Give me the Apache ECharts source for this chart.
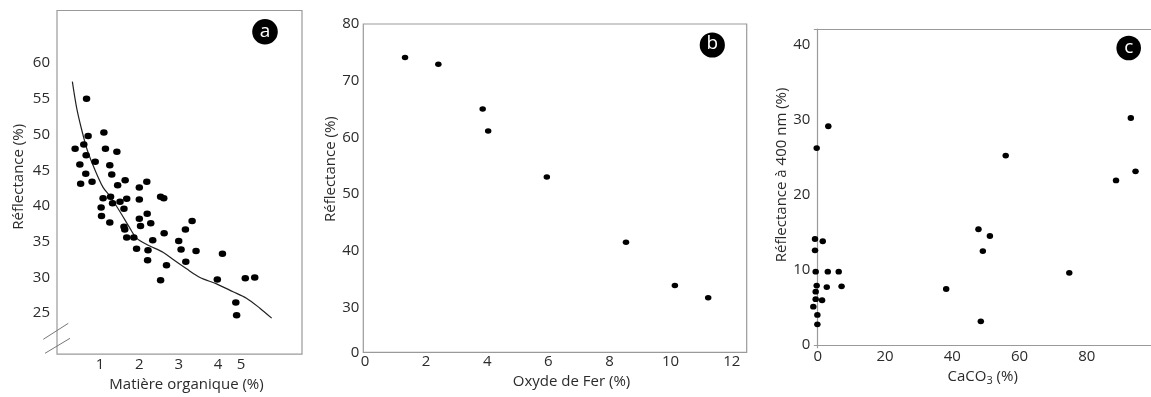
<!DOCTYPE html>
<html><head><meta charset="utf-8">
<script src="https://cdn.jsdelivr.net/npm/echarts@6/dist/echarts.min.js"></script>
<style>html,body{margin:0;padding:0;background:#fff}#c{width:1151px;height:397px}</style>
</head><body><div id="c"></div>
<script>
// Panel a: Matière organique (%) vs Réflectance (%)
const orgX = [0.66,0.70,1.10,0.37,0.59,0.65,1.14,1.43,0.49,0.88,1.25,0.64,1.30,0.51,0.80,1.45,1.64,2.00,2.19,1.08,1.27,1.03,1.04,1.32,1.51,1.68,1.61,2.00,2.54,2.62,1.25,1.61,1.63,1.68,1.86,2.00,2.03,2.20,2.29,2.34,1.93,2.22,2.21,2.63,2.69,2.54,3.34,3.17,3.00,3.06,3.44,3.18,4.11,3.98,4.69,4.93,4.45,4.47];
const orgY = [55.0,49.8,50.3,48.0,48.6,47.1,48.0,47.6,45.8,46.2,45.7,44.5,44.4,43.1,43.4,42.9,43.6,42.6,43.4,41.1,41.3,39.8,38.6,40.4,40.6,41.0,39.6,40.9,41.3,41.1,37.7,37.1,36.7,35.6,35.6,38.2,37.2,38.9,37.6,35.2,34.0,33.8,32.4,36.2,31.7,29.6,37.9,36.7,35.1,33.9,33.7,32.2,33.3,29.7,29.9,30.0,26.5,24.7];
const curveX = [0.30,0.41,0.54,0.68,0.87,1.08,1.25,1.51,1.76,1.93,2.19,2.61,2.86,3.20,3.54,3.96,4.38,4.72,5.06,5.36];
const curveY = [57.4,53.7,50.6,47.8,45.1,42.6,41.4,39.2,36.9,35.5,34.6,33.5,32.5,31.2,30.0,29.1,28.0,27.1,25.7,24.3];
const aXTicks = [1,2,3,4,4.58];
const aXTickText = ['1','2','3','4','5'];
const aYTicks = [25,30,35,40,45,50,55,60];

// Panel b: Oxyde de Fer (%) vs Réflectance (%)
const feX = [1.31,2.40,3.85,4.03,5.95,8.54,10.14,11.23];
const feY = [74.1,72.9,65.0,61.1,53.0,41.5,33.85,31.7];
const bXTicks = [0,2,4,6,8,10,12];
const bYTicks = [22.06,30,40,50,60,70,80];
const bYTickText = ['0','30','40','50','60','70','80'];

// Panel c: CaCO3 (%) vs Réflectance à 400 nm (%)
const caX = [-0.3,3.15,55.9,93.1,88.7,94.5,-0.8,1.5,-0.8,-0.6,3.0,6.25,-0.3,2.7,7.1,-0.6,-0.6,1.3,-1.3,-0.1,-0.1,47.8,51.2,49.1,38.2,48.5,74.8];
const caY = [26.2,29.1,25.2,30.2,21.9,23.1,14.1,13.8,12.6,9.75,9.75,9.75,7.9,7.7,7.8,7.1,6.1,5.95,5.1,4.0,2.75,15.4,14.5,12.5,7.45,3.15,9.6];
const cXTicks = [0,20,40,60,80];
const cYTicks = [0,10,20,30,40];

const FONT = 'Open Sans';
const TXT = '#2b2b2b';
const GRID = '#9a9a9a';
const pairs = (xs, ys) => xs.map((x, i) => [x, ys[i]]);

const lbl = (extra) => Object.assign({color: TXT, fontFamily: FONT, fontSize: 15}, extra);
const nameStyle = (extra) => Object.assign({color: TXT, fontFamily: FONT, fontSize: 15}, extra);
const dot = {color: '#000', opacity: 1};

const chart = echarts.init(document.getElementById('c'), null, {renderer: 'canvas'});
chart.setOption({
  animation: false,
  backgroundColor: '#fff',
  grid: [
    {left: 57, top: 10.5, width: 245, height: 351.5, show: true, borderColor: GRID, borderWidth: 1.2, backgroundColor: 'transparent'},
    {left: 363.3, top: 24, width: 383.4, height: 328.3, show: true, borderColor: GRID, borderWidth: 1.2, backgroundColor: 'transparent'},
    {left: 814.3, top: 29, right: 0, height: 318.7, show: false}
  ],
  xAxis: [
    {gridIndex: 0, type: 'value', min: -0.09, max: 6.13,
     axisLine: {show: false}, axisTick: {show: false}, splitLine: {show: false},
     axisLabel: Object.assign(lbl({margin: 3}), {customValues: aXTicks,
       formatter: v => { const i = aXTicks.findIndex(t => Math.abs(t - v) < 1e-6); return i >= 0 ? aXTickText[i] : ''; }}),
     name: 'Matière organique (%)', nameLocation: 'middle', nameGap: 21,
     nameTextStyle: nameStyle({padding: [0, 0, 0, 14]})},
    {gridIndex: 1, type: 'value', min: -0.056, max: 12.49,
     axisLine: {show: false}, axisTick: {show: false}, splitLine: {show: false},
     axisLabel: Object.assign(lbl({margin: 2}), {customValues: bXTicks}),
     name: 'Oxyde de Fer (%)', nameLocation: 'middle', nameGap: 22,
     nameTextStyle: nameStyle({padding: [0, 0, 0, 33]})},
    {gridIndex: 2, type: 'value', min: -1.01, max: 99.1,
     axisLine: {show: true, lineStyle: {color: GRID, width: 1.2}}, axisTick: {show: false}, splitLine: {show: false},
     axisLabel: Object.assign(lbl({margin: 2}), {customValues: cXTicks}),
     name: '{n|CaCO}{s|3}{n| (%)}', nameLocation: 'middle', nameGap: 20,
     nameTextStyle: nameStyle({rich: {
       n: {color: TXT, fontFamily: FONT, fontSize: 15},
       s: {color: TXT, fontFamily: FONT, fontSize: 11, padding: [8, 0, 0, 0]}}})},
    {gridIndex: 2, type: 'value', min: -1.01, max: 99.1, position: 'top',
     axisLine: {show: true, lineStyle: {color: GRID, width: 1.2}}, axisTick: {show: false},
     axisLabel: {show: false}, splitLine: {show: false}}
  ],
  yAxis: [
    {gridIndex: 0, type: 'value', min: 19.27, max: 67.36,
     axisLine: {show: false}, axisTick: {show: false}, splitLine: {show: false},
     axisLabel: Object.assign(lbl({margin: 7}), {customValues: aYTicks}),
     name: 'Réflectance (%)', nameLocation: 'middle', nameGap: 31,
     nameTextStyle: nameStyle({padding: [0, 0, 0, 11]})},
    {gridIndex: 1, type: 'value', min: 22.06, max: 80,
     axisLine: {show: false}, axisTick: {show: false}, splitLine: {show: false},
     axisLabel: Object.assign(lbl({margin: 4}), {customValues: bYTicks,
       formatter: v => { const i = bYTicks.findIndex(t => Math.abs(t - v) < 1e-6); return i >= 0 ? bYTickText[i] : ''; }}),
     name: 'Réflectance (%)', nameLocation: 'middle', nameGap: 24,
     nameTextStyle: nameStyle({padding: [0, 0, 0, 38]})},
    {gridIndex: 2, type: 'value', min: -0.36, max: 42.04,
     axisLine: {show: true, lineStyle: {color: GRID, width: 1.2}}, axisTick: {show: false}, splitLine: {show: false},
     axisLabel: Object.assign(lbl({margin: 4}), {customValues: cYTicks}),
     name: 'Réflectance à 400 nm (%)', nameLocation: 'middle', nameGap: 22,
     nameTextStyle: nameStyle({padding: [0, 0, 0, 27]})}
  ],
  series: [
    {type: 'line', xAxisIndex: 0, yAxisIndex: 0, data: pairs(curveX, curveY), smooth: 0.3,
     showSymbol: false, symbol: 'none', lineStyle: {color: '#222', width: 1.2, opacity: 1}, silent: true, z: 2},
    {type: 'scatter', xAxisIndex: 0, yAxisIndex: 0, data: pairs(orgX, orgY), symbol: 'circle', symbolSize: [7.5, 6.5],
     itemStyle: dot, clip: false, z: 3},
    {type: 'scatter', xAxisIndex: 1, yAxisIndex: 1, data: pairs(feX, feY), symbol: 'circle', symbolSize: [6.5, 5.5],
     itemStyle: dot, clip: false},
    {type: 'scatter', xAxisIndex: 2, yAxisIndex: 2, data: pairs(caX, caY), symbol: 'circle', symbolSize: [6.5, 5.8],
     itemStyle: dot, clip: false}
  ],
  graphic: [
    {type: 'line', shape: {x1: 43.3, y1: 339.3, x2: 68.3, y2: 323.3}, style: {stroke: '#777', lineWidth: 1}},
    {type: 'line', shape: {x1: 45, y1: 353.3, x2: 70, y2: 338.3}, style: {stroke: '#777', lineWidth: 1}},
    {type: 'circle', shape: {cx: 265, cy: 31.7, r: 12.8}, style: {fill: '#000'}},
    {type: 'text', x: 265, y: 31.2, style: {text: 'a', fill: '#fff', font: '19px "Open Sans"', align: 'center', verticalAlign: 'middle'}},
    {type: 'circle', shape: {cx: 712.3, cy: 45, r: 12.6}, style: {fill: '#000'}},
    {type: 'text', x: 712.3, y: 44, style: {text: 'b', fill: '#fff', font: '19px "Open Sans"', align: 'center', verticalAlign: 'middle'}},
    {type: 'circle', shape: {cx: 1128.7, cy: 48, r: 12.3}, style: {fill: '#000'}},
    {type: 'text', x: 1128.7, y: 47.5, style: {text: 'c', fill: '#fff', font: '19px "Open Sans"', align: 'center', verticalAlign: 'middle'}}
  ]
});
</script></body></html>
